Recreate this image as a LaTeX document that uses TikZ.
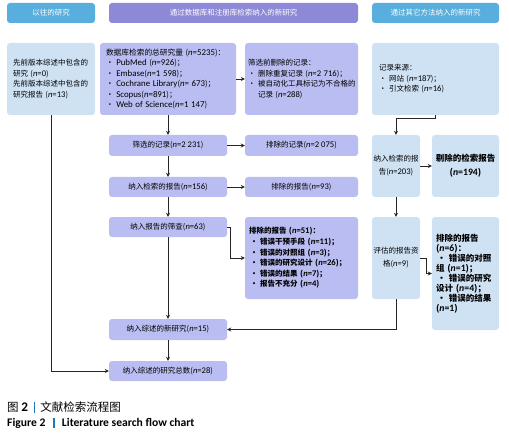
\documentclass[tikz,border=0pt]{standalone}
\usepackage{fontspec}
\setmainfont{Noto Sans CJK SC}
\newfontfamily\latf{Carlito}[Scale=1.15]
\definecolor{headblue}{RGB}{88,174,220}
\definecolor{headpurple}{RGB}{142,137,214}
\definecolor{boxlav}{RGB}{185,189,241}
\definecolor{boxsky}{RGB}{207,226,244}
\definecolor{capbar}{RGB}{30,120,190}
\usetikzlibrary{arrows.meta, positioning}
\newcommand{\nv}[1]{{\latf\textit{n}=#1}}

\begin{document}
\begin{tikzpicture}[
  x=1pt, y=-1pt,
  head/.style={rounded corners=3pt, text=white, minimum height=20pt, inner sep=0pt, font=\fontsize{7.5}{9}\selectfont},
  lav/.style={rounded corners=3pt, fill=boxlav, inner sep=0pt, font=\fontsize{7.5}{10.5}\selectfont},
  sky/.style={rounded corners=3pt, fill=boxsky, inner sep=0pt, font=\fontsize{7.5}{10.5}\selectfont},
  link/.style={draw=black!85, line width=0.9pt, -{Stealth[length=4pt, width=4pt]}}
]
  \useasboundingbox (0,0) rectangle (509,441);

  % headers
  \node[head, fill=headblue, minimum width=88pt] (HOLD) at (51,13) {以往的研究};
  \node[head, fill=headpurple, minimum width=249pt] (HDB) at (233.5,13) {通过数据库和注册库检索纳入的新研究};
  \node[head, fill=headblue, minimum width=127pt] (HOTH) at (435.5,13) {通过其它方法纳入的新研究};

  % identification
  \node[sky, minimum width=88pt, minimum height=72pt, text width=76pt, align=left] (PREV) at (51,79)
    {先前版本综述中包含的\\研究 (\nv{0})\\先前版本综述中包含的\\研究报告 (\nv{13})};
  \node[lav, minimum width=136pt, minimum height=72pt, text width=124pt, align=left, font=\fontsize{7.7}{10.5}\selectfont] (DB) at (168,79)
    {数据库检索的总研究量~(\nv{5235})：\\•~{\latf PubMed}~(\nv{926})；\\•~{\latf Embase}(\nv{1 598})；\\•~{\latf Cochrane Library}(\nv{ 673})；\\•~{\latf Scopus}(\nv{891})；\\•~{\latf Web of Science}(\nv{1 147})};
  \node[lav, minimum width=113pt, minimum height=72pt, text width=107pt, align=left] (REM) at (301.5,79)
    {筛选前删除的记录：\\•~删除重复记录~(\nv{2 716})；\\•~被自动化工具标记为不合格的\\\phantom{•~}记录~(\nv{288})};
  \node[sky, minimum width=127pt, minimum height=72pt, text width=113pt, align=left] (SRC) at (435.5,79)
    {记录来源：\\•~网站~(\nv{187})；\\•~引文检索~(\nv{16})};

  % screening
  \node[lav, minimum width=118pt, minimum height=21pt] (SCR) at (168,145.5) {筛选的记录(\nv{2 231})};
  \node[lav, minimum width=113pt, minimum height=21pt] (EXR) at (301.5,145.5) {排除的记录(\nv{2 075})};
  \node[lav, minimum width=118pt, minimum height=20pt] (SGT) at (168,187) {纳入检索的报告(\nv{156})};
  \node[lav, minimum width=113pt, minimum height=20pt] (NRT) at (301.5,187) {排除的报告(\nv{93})};
  \node[lav, minimum width=118pt, minimum height=20pt] (SCN) at (168,227) {纳入报告的筛查(\nv{63})};
  \node[lav, minimum width=113pt, minimum height=82pt, text width=105pt, align=left, font=\bfseries\fontsize{7.5}{10.6}\selectfont] (EXL) at (301.5,258)
    {排除的报告~(\nv{51})：\\\,•~错误干预手段~(\nv{11})；\\\,•~错误的对照组~(\nv{3})；\\\,•~错误的研究设计~(\nv{26})；\\\,•~错误的结果~(\nv{7})；\\\,•~报告不充分~(\nv{4})};

  \node[sky, minimum width=48pt, minimum height=62pt, align=center, font=\fontsize{7.5}{13}\selectfont] (SGO) at (396,166) {纳入检索的报\\告(\nv{203})};
  \node[sky, minimum width=67pt, minimum height=62pt, align=center, font=\bfseries\fontsize{8.5}{14}\selectfont] (RMO) at (465.5,166) {剔除的检索报告\\(\nv{194})};
  \node[sky, minimum width=48pt, minimum height=82pt, align=center, font=\fontsize{7.5}{13}\selectfont] (ELO) at (396,258) {评估的报告资\\格(\nv{9})};
  \node[sky, minimum width=67pt, minimum height=113pt, text width=59pt, align=left, font=\bfseries\fontsize{8.5}{10}\selectfont] (EXO) at (465.5,273.5)
    {排除的报告\\(\nv{6})：\\\,•~错误的对照\\组~(\nv{1})；\\\,•~错误的研究\\设计~(\nv{4})；\\\,•~错误的结果\\(\nv{1})};

  % included
  \node[lav, minimum width=118pt, minimum height=21pt] (NEW) at (168,329.5) {纳入综述的新研究(\nv{15})};
  \node[lav, minimum width=118pt, minimum height=20pt] (TOT) at (168,371) {纳入综述的研究总数(\nv{28})};

  % caption
  \node[anchor=west, inner sep=0pt, font=\fontsize{11.5}{13}\selectfont] (CAPZH) at (7,407)
    {图 \textbf{\latf 2}\hspace{6pt}\textcolor{capbar}{\rule[-1.5pt]{1.5pt}{10.5pt}}\hspace{5pt}文献检索流程图};
  \node[anchor=west, inner sep=0pt, font=\latf\bfseries\fontsize{10.1}{12}\selectfont] (CAPEN) at (7,423)
    {Figure 2\hspace{8pt}\textcolor{capbar}{\rule[-1.5pt]{1.5pt}{10.5pt}}\hspace{7pt}Literature search flow chart};

  % connectors
  \draw[link] (PREV.south) |- (TOT.west);
  \foreach \a/\b in {DB/SCR, SCR/SGT, SGT/SCN, SCN/NEW, NEW/TOT, DB/REM, SCR/EXR, SGT/NRT, SGO/RMO, SGO/ELO}
    \draw[link] (\a) -- (\b);
  \draw[link] (SCN.east) -- ++(3,0) |- (EXL.west);
  \draw[link] (SRC.south) -- ++(0,3) -| (SGO.north);
  \draw[link] (ELO.east) -- ++(6,0) |- (EXO.west);
  \draw[link] (ELO.south) |- (NEW.east);
\end{tikzpicture}
\end{document}
